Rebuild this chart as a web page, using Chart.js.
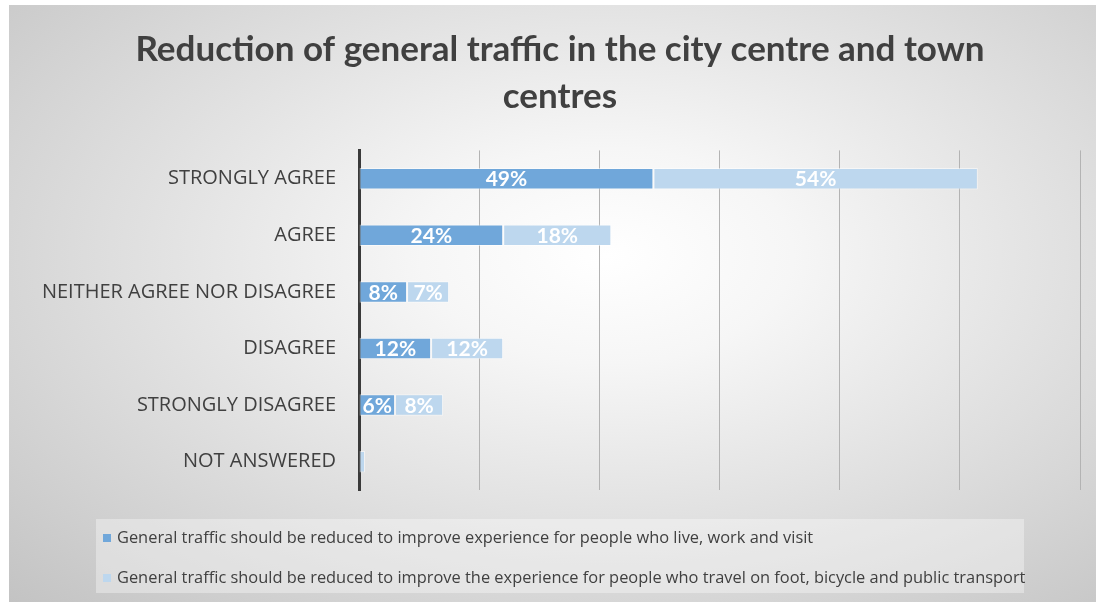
<!DOCTYPE html>
<html lang="en">
  <head>
    <meta charset="UTF-8" />
    <script src="https://cdn.jsdelivr.net/npm/chart.js"></script>
    <style>
      body {
        margin: 0;
        background: #ffffff;
        font-family: "Open Sans", sans-serif;
      }
      #frame {
        position: absolute;
        left: 9px;
        top: 5px;
        width: 1087px;
        height: 597px;
        background: radial-gradient(
          ellipse farthest-corner at 55% 42%,
          #ffffff 0%,
          #f6f6f6 22%,
          #c3c3c3 100%
        );
      }
      #legend {
        position: absolute;
        left: 87px;
        top: 514px;
        width: 928px;
        height: 74px;
        background: rgba(255, 255, 255, 0.35);
        color: #404040;
        font-size: 16.4px;
      }
      .item {
        position: absolute;
        left: 7px;
        height: 20px;
        line-height: 20px;
        white-space: nowrap;
      }
      .item span {
        display: inline-block;
        width: 8px;
        height: 8px;
        margin-right: 6px;
        vertical-align: 1px;
      }
    </style>
  </head>
  <body>
    <div id="frame">
      <canvas id="trafficChart" width="1087" height="597"></canvas>
      <div id="legend"></div>
    </div>

    <script>
      const categories = [
        "STRONGLY AGREE",
        "AGREE",
        "NEITHER AGREE NOR DISAGREE",
        "DISAGREE",
        "STRONGLY DISAGREE",
        "NOT ANSWERED",
      ];
      const liveWorkVisit = [49, 24, 8, 12, 6, 0]; // % residents/workers/visitors
      const footBikeTransit = [54, 18, 7, 12, 8, 1]; // % walking, cycling, public transport
      const seriesNames = [
        "General traffic should be reduced to improve experience for people who live, work and visit",
        "General traffic should be reduced to improve the experience for people who travel on foot, bicycle and public transport",
      ];
      const titleLines = [
        "Reduction of general traffic in the city centre and town",
        "centres",
      ];

      // white % labels in the middle of each bar segment
      const barLabels = {
        id: "barLabels",
        afterDatasetsDraw(chart) {
          const ctx = chart.ctx;
          ctx.save();
          ctx.fillStyle = "#ffffff";
          ctx.font = "bold 21px Lato";
          ctx.textAlign = "center";
          ctx.textBaseline = "middle";
          chart.data.datasets.forEach((ds, i) => {
            chart.getDatasetMeta(i).data.forEach((bar, j) => {
              if (ds.data[j] < 2) return;
              const p = bar.getProps(["x", "y", "base"], true);
              ctx.fillText(ds.data[j] + "%", (p.x + p.base) / 2, p.y + 1);
            });
          });
          ctx.restore();
        },
      };

      const ctx = document.getElementById("trafficChart").getContext("2d");
      const trafficChart = new Chart(ctx, {
        type: "bar",
        data: {
          labels: categories,
          datasets: [
            {
              label: seriesNames[0],
              data: liveWorkVisit,
              backgroundColor: "#70a7da",
              borderColor: "rgba(255, 255, 255, 0.5)",
              borderWidth: 1,
              borderSkipped: false,
            },
            {
              label: seriesNames[1],
              data: footBikeTransit,
              backgroundColor: "#bdd7ee",
              borderColor: "rgba(255, 255, 255, 0.5)",
              borderWidth: 1,
              borderSkipped: false,
            },
          ],
        },
        options: {
          indexAxis: "y",
          responsive: false,
          animation: false,
          categoryPercentage: 1,
          barPercentage: 0.38,
          layout: { padding: { left: 31, right: 16, top: 0, bottom: 112 } },
          plugins: {
            legend: { display: false },
            tooltip: { enabled: false },
            title: {
              display: true,
              text: titleLines,
              color: "#404040",
              font: { family: "Lato", size: 35, weight: "bold", lineHeight: 1.32 },
              padding: { top: 22, bottom: 31 },
            },
          },
          scales: {
            x: {
              stacked: true,
              min: 0,
              max: 120,
              ticks: { display: false, stepSize: 20 },
              grid: {
                drawTicks: false,
                color: (c) => (c.index === 0 ? "rgba(0,0,0,0)" : "#b3b3b3"),
              },
              border: { display: false },
              afterFit: (s) => {
                s.height = 0;
              },
            },
            y: {
              stacked: true,
              grid: { display: false, drawTicks: false },
              border: { color: "#3a3a3a", width: 3 },
              ticks: {
                color: "#404040",
                font: { family: "Open Sans", size: 20 },
                padding: 23,
              },
              afterFit: (s) => {
                s.width = 319;
              },
            },
          },
        },
        plugins: [barLabels],
      });

      // legend rows built from the datasets
      const legendBox = document.getElementById("legend");
      trafficChart.data.datasets.forEach((ds, i) => {
        const row = document.createElement("div");
        row.className = "item";
        row.style.top = 8 + i * 40 + "px";
        row.innerHTML =
          '<span style="background:' + ds.backgroundColor + '"></span>' + ds.label;
        legendBox.appendChild(row);
      });
    </script>
  </body>
</html>
